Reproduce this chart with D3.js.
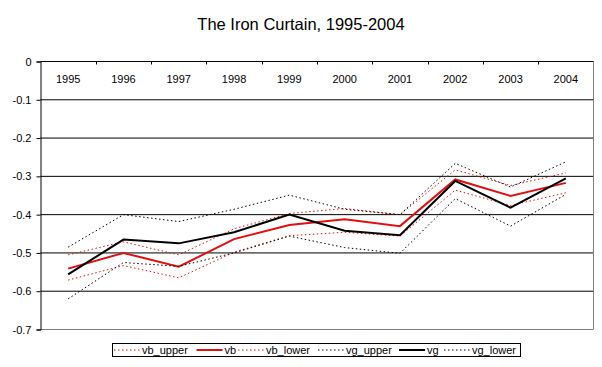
<!DOCTYPE html>
<html><head><meta charset="utf-8">
<script src="https://cdn.jsdelivr.net/npm/d3@7/dist/d3.min.js"></script>
<style>
html,body{margin:0;padding:0;background:#fff;}
svg{display:block;font-family:"Liberation Sans",Arial,sans-serif;}
</style></head>
<body>
<svg id="c" width="602" height="367"></svg>
<script>
const years = ["1995","1996","1997","1998","1999","2000","2001","2002","2003","2004"];
const vb_upper = [-0.505,-0.471,-0.505,-0.437,-0.397,-0.384,-0.400,-0.283,-0.324,-0.291];
const vb       = [-0.541,-0.500,-0.536,-0.464,-0.427,-0.412,-0.430,-0.308,-0.351,-0.317];
const vb_lower = [-0.571,-0.533,-0.565,-0.498,-0.455,-0.446,-0.456,-0.336,-0.376,-0.343];
const vg_upper = [-0.485,-0.400,-0.418,-0.386,-0.349,-0.386,-0.400,-0.266,-0.328,-0.262];
const vg       = [-0.556,-0.465,-0.475,-0.446,-0.400,-0.442,-0.454,-0.312,-0.382,-0.305];
const vg_lower = [-0.620,-0.525,-0.535,-0.500,-0.456,-0.486,-0.501,-0.358,-0.430,-0.347];
const yTicks = [0,-0.1,-0.2,-0.3,-0.4,-0.5,-0.6,-0.7];
const title = "The Iron Curtain, 1995-2004";

const series = [
  {name:"vb_upper", values:vb_upper, color:"#e01010", width:1, dash:"1.5,2.5"},
  {name:"vb",       values:vb,       color:"#e01010", width:2, dash:null},
  {name:"vb_lower", values:vb_lower, color:"#e01010", width:1, dash:"1.5,2.5"},
  {name:"vg_upper", values:vg_upper, color:"#000000", width:1, dash:"1.5,2.5"},
  {name:"vg",       values:vg,       color:"#000000", width:2, dash:null},
  {name:"vg_lower", values:vg_lower, color:"#000000", width:1, dash:"1.5,2.5"}
];

const svg = d3.select("#c");
const L = 40.5, R = 593.5, T = 61.5, B = 329.5;
const x = d3.scaleBand().domain(years).range([L, R]).padding(0);
const y = d3.scaleLinear().domain([0, -0.7]).range([T, B]);
const cx = d => x(d) + x.bandwidth()/2;

// title
svg.append("text").attr("x", 301).attr("y", 30).attr("text-anchor","middle")
  .attr("font-size", 16.5).attr("fill","#000").text(title);

// gridlines
svg.append("g").selectAll("line").data(yTicks.filter(v => v < 0 && v > -0.7)).join("line")
  .attr("x1", L).attr("x2", R).attr("y1", d => y(d)).attr("y2", d => y(d))
  .attr("stroke", "#000").attr("stroke-width", 1);

// plot border (right, bottom grey)
svg.append("line").attr("x1", R).attr("x2", R).attr("y1", T).attr("y2", B).attr("stroke","#808080");
svg.append("line").attr("x1", L).attr("x2", R).attr("y1", B).attr("y2", B).attr("stroke","#808080");

// y axis
const yAxis = d3.axisLeft(y).tickValues(yTicks).tickSize(4).tickPadding(5)
  .tickFormat(d => d === 0 ? "0" : d3.format(".1f")(d).replace("−","-"));
const ya = svg.append("g").attr("transform", `translate(${L},0)`).call(yAxis);
ya.select(".domain").attr("stroke","#000");
ya.selectAll(".tick line").attr("stroke","#000");
ya.selectAll("text").attr("font-size", 11).attr("fill","#000").attr("font-family","Liberation Sans, Arial, sans-serif");

// top category axis at value 0
const xa = svg.append("g").attr("transform", `translate(0,${y(0)})`);
xa.append("line").attr("x1", L).attr("x2", R).attr("stroke","#000");
xa.selectAll("line.tk").data(years.slice(1)).join("line").attr("class","tk")
  .attr("x1", d => Math.round(x(d)) + 0.5).attr("x2", d => Math.round(x(d)) + 0.5)
  .attr("y1", 0).attr("y2", 3).attr("stroke","#000");
xa.selectAll("text").data(years).join("text")
  .attr("x", d => cx(d)).attr("y", 21).attr("text-anchor","middle")
  .attr("font-size", 11).attr("fill","#000").text(d => d);

// lines
const line = d3.line().x((d,i) => cx(years[i])).y(d => y(d));
svg.append("g").selectAll("path").data(series).join("path")
  .attr("d", s => line(s.values)).attr("fill","none")
  .attr("stroke", s => s.color).attr("stroke-width", s => s.width)
  .attr("stroke-dasharray", s => s.dash).attr("stroke-linejoin","miter");

// legend
svg.append("rect").attr("x", 112.5).attr("y", 343.5).attr("width", 408).attr("height", 13)
  .attr("fill","#fff").attr("stroke","#000");
const legendX = [114, 196.5, 238, 318, 399, 444];
const lg = svg.append("g").selectAll("g").data(series).join("g")
  .attr("transform", (s,i) => `translate(${legendX[i]},350)`);
lg.append("line").attr("x1", 0).attr("x2", 26).attr("y1", 0).attr("y2", 0)
  .attr("stroke", s => s.color).attr("stroke-width", s => s.width)
  .attr("stroke-dasharray", s => s.dash);
lg.append("text").attr("x", 28).attr("y", 4).attr("font-size", 11).attr("fill","#000")
  .text(s => s.name);
</script>
</body></html>
